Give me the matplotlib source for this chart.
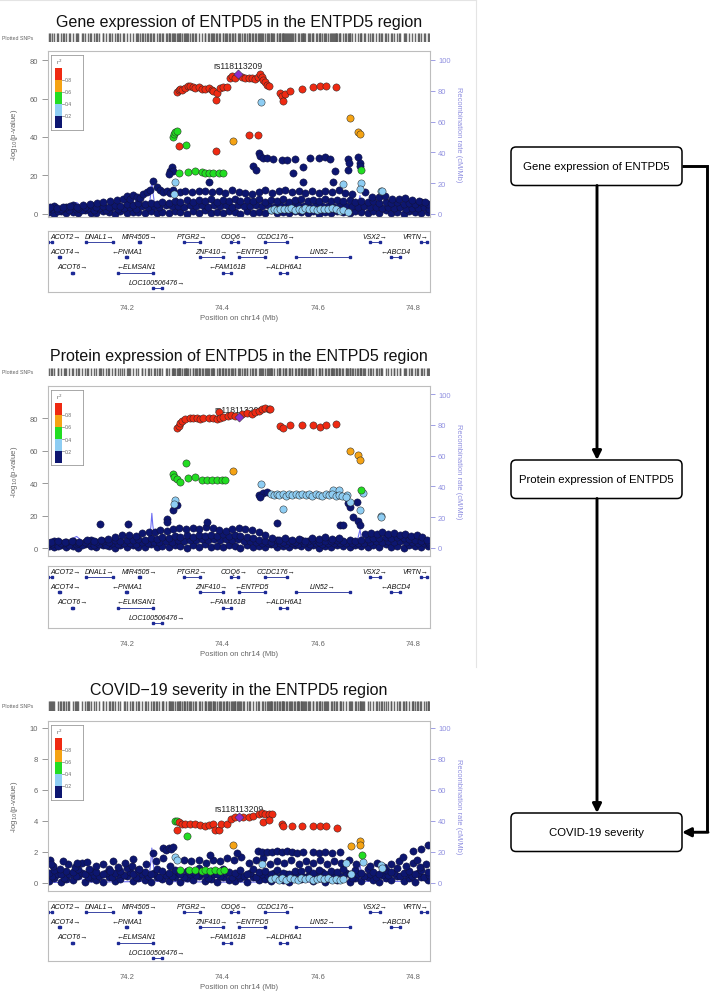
import matplotlib
matplotlib.use('Agg')
import matplotlib.pyplot as plt
from matplotlib.patches import FancyBboxPatch

plt.rcParams['font.family'] = ['Liberation Sans', 'DejaVu Sans']

W, H = 714, 1004
XLIM = (74.034, 74.836)

# ---------------- data ----------------
# background SNP positions (Mb), shared by the three traits
bg_pos = [74.036, 74.047, 74.061, 74.072, 74.086, 74.098, 74.111, 74.125,
          74.135, 74.149, 74.163, 74.174, 74.186, 74.199, 74.213, 74.224,
          74.237, 74.251, 74.262, 74.274, 74.288, 74.301, 74.312, 74.326,
          74.339, 74.350, 74.363, 74.377, 74.388, 74.401, 74.415, 74.426,
          74.438, 74.452, 74.465, 74.476, 74.490, 74.503, 74.514, 74.527,
          74.541, 74.552, 74.565, 74.579, 74.590, 74.602, 74.616, 74.629,
          74.640, 74.654, 74.667, 74.678, 74.691, 74.705, 74.716, 74.729,
          74.743, 74.754, 74.767, 74.781, 74.792, 74.805, 74.818, 74.831]
bg_pos2 = [74.042, 74.054, 74.067, 74.079, 74.092, 74.105, 74.118, 74.130,
           74.142, 74.156, 74.168, 74.180, 74.193, 74.206, 74.218, 74.231,
           74.244, 74.256, 74.268, 74.281, 74.294, 74.306, 74.319, 74.332,
           74.344, 74.357, 74.370, 74.382, 74.395, 74.408, 74.420, 74.432,
           74.445, 74.458, 74.470, 74.483, 74.496, 74.508, 74.521, 74.534,
           74.546, 74.559, 74.572, 74.584, 74.596, 74.609, 74.622, 74.634,
           74.647, 74.660, 74.672, 74.685, 74.698, 74.710, 74.722, 74.736,
           74.748, 74.761, 74.774, 74.786, 74.798, 74.811, 74.824, 74.834]

# recombination rate (cM/Mb)
rec_pos = [74.035, 74.080, 74.088, 74.094, 74.100, 74.108, 74.200, 74.245,
           74.250, 74.252, 74.254, 74.260, 74.400, 74.600, 74.680, 74.686,
           74.689, 74.692, 74.700, 74.810, 74.816, 74.820, 74.826, 74.835]
rec_rate = [0.3, 0.4, 6.5, 7.5, 6.0, 0.5, 0.8, 1.0,
            14.0, 22.5, 15.0, 1.0, 0.5, 0.6, 1.0, 8.0,
            12.0, 6.0, 1.0, 1.0, 4.5, 5.0, 1.0, 0.5]

# genes
gene_names = ['ACOT2', 'DNAL1', 'MIR4505', 'PTGR2', 'COQ6', 'CCDC176', 'VSX2', 'VRTN',
              'ACOT4', 'PNMA1', 'ZNF410', 'ENTPD5', 'LIN52', 'ABCD4',
              'ACOT6', 'ELMSAN1', 'FAM161B', 'ALDH6A1', 'LOC100506476']
gene_start = [74.035, 74.114, 74.226, 74.320, 74.418, 74.490, 74.709, 74.818,
              74.058, 74.198, 74.353, 74.434, 74.554, 74.755,
              74.085, 74.182, 74.401, 74.521, 74.254]
gene_end = [74.042, 74.171, 74.228, 74.353, 74.432, 74.535, 74.731, 74.829,
            74.060, 74.200, 74.401, 74.490, 74.668, 74.773,
            74.087, 74.255, 74.418, 74.535, 74.273]
gene_strand = ['+', '+', '+', '+', '+', '+', '+', '+',
               '+', '-', '+', '-', '+', '-',
               '+', '-', '-', '-', '+']
gene_row = [0, 0, 0, 0, 0, 0, 0, 0, 1, 1, 1, 1, 1, 1, 2, 2, 2, 2, 3]

# --- gene expression of ENTPD5 ---
g_lo = [0.8, 0.2, 1.5, 0.6, 1.1, 0.3, 1.8, 0.7,
        0.4, 1.3, 0.9, 0.2, 1.6, 0.5, 1.2, 0.8,
        0.3, 1.7, 0.6, 1.0, 0.4, 1.5, 0.9, 0.2,
        1.3, 0.7, 1.9, 0.5, 1.1, 0.3, 1.4, 0.8,
        0.2, 1.6, 0.6, 1.0, 0.4, 1.8, 0.7, 1.2,
        0.3, 1.5, 0.9, 0.5, 1.7, 0.2, 1.1, 0.6,
        1.4, 0.8, 0.3, 1.6, 1.0, 0.4, 1.3, 0.7,
        1.9, 0.5, 1.2, 0.2, 1.5, 0.8, 0.4, 1.1]
g_md = [2.4, 1.6, 3.1, 2.0, 2.7, 1.8, 3.3, 2.2,
        2.9, 2.1, 3.5, 2.5, 3.0, 3.8, 2.6, 4.0,
        3.4, 4.2, 3.6, 4.5, 3.9, 4.3, 3.5, 4.6,
        4.0, 4.4, 3.7, 4.8, 4.1, 4.5, 3.8, 4.7,
        4.2, 3.9, 4.6, 4.0, 4.4, 3.6, 4.8, 4.1,
        3.9, 4.5, 4.2, 3.7, 4.6, 4.0, 4.3, 3.8,
        4.5, 3.9, 4.2, 3.6, 4.0, 3.4, 3.8, 3.2,
        3.6, 3.0, 3.4, 2.8, 3.3, 2.9, 3.5, 2.7]
g_hi = [3.2, 4.0, 2.8, 3.6, 4.4, 3.0, 3.8, 4.6,
        3.4, 4.1, 3.7, 4.8, 4.2, 5.1, 4.6, 5.5,
        5.0, 5.8, 5.3, 6.2, 5.7, 6.6, 6.0, 7.0,
        6.3, 7.2, 6.6, 7.5, 6.4, 7.1, 6.8, 7.6,
        6.5, 7.3, 6.9, 7.8, 6.3, 7.2, 6.7, 7.5,
        6.4, 7.0, 7.7, 6.6, 7.3, 6.9, 7.6, 6.5,
        7.1, 6.8, 7.4, 6.3, 6.9, 6.0, 6.6, 5.8,
        6.3, 5.5, 6.0, 5.2, 5.8, 5.4, 6.1, 5.0]
g_mid_x = [74.038, 74.052, 74.066, 74.080, 74.094, 74.108, 74.122, 74.136, 74.150, 74.164,
           74.178, 74.192, 74.199, 74.206, 74.213, 74.220, 74.227, 74.234, 74.241, 74.248,
           74.262, 74.270, 74.276, 74.283, 74.290, 74.297, 74.311, 74.322, 74.336, 74.350,
           74.364, 74.378, 74.392, 74.406, 74.420, 74.434, 74.448, 74.462, 74.476, 74.490,
           74.504, 74.518, 74.532, 74.546, 74.560, 74.574, 74.588, 74.602, 74.616, 74.630,
           74.644, 74.658, 74.672, 74.700, 74.714, 74.728, 74.742, 74.756, 74.770, 74.784,
           74.798, 74.812, 74.826]
g_mid_y = [3.8, 3.0, 3.5, 4.2, 3.6, 4.8, 5.2, 5.5, 6.0, 6.6,
           7.0, 8.0, 9.5, 7.5, 10.0, 9.0, 8.2, 10.5, 11.5, 12.3,
           13.9, 12.6, 11.5, 12.0, 11.0, 12.2, 11.3, 12.0, 11.6, 11.9,
           12.0, 11.2, 11.8, 11.0, 12.4, 11.5, 10.8, 10.2, 11.6, 12.2,
           11.0, 11.9, 12.5, 11.4, 12.0, 11.0, 11.7, 10.9, 11.8, 11.2,
           12.3, 11.0, 10.5, 11.3, 9.0, 8.6, 9.2, 7.8, 7.5, 8.4,
           7.2, 6.8, 6.0]
g_navy_x = [74.476, 74.479, 74.486, 74.493, 74.507, 74.525, 74.535, 74.553, 74.584, 74.602,
            74.616, 74.626, 74.664, 74.666, 74.685, 74.688, 74.688, 74.664, 74.465, 74.470,
            74.549, 74.570, 74.637, 74.290, 74.294, 74.297, 74.287, 74.371, 74.569, 74.633,
            74.255]
g_navy_y = [31.7, 30.3, 28.9, 28.9, 28.6, 28.2, 28.2, 28.6, 28.9, 29.3,
            29.4, 28.6, 28.6, 26.5, 29.4, 26.5, 25.1, 23.0, 25.0, 23.0,
            21.3, 24.2, 22.5, 22.5, 24.5, 22.5, 20.8, 16.5, 16.5, 16.8,
            17.3]
g_ltblue_x = [74.481, 74.301, 74.299, 74.654, 74.692, 74.688, 74.733, 74.736,
              74.502, 74.508, 74.515, 74.522, 74.530, 74.538, 74.545, 74.552, 74.560, 74.567,
              74.574, 74.582, 74.590, 74.598, 74.606, 74.614, 74.622, 74.630, 74.638, 74.646,
              74.654, 74.664]
g_ltblue_y = [58.4, 16.8, 10.4, 15.6, 16.1, 13.0, 12.1, 11.8,
              2.2, 2.6, 2.0, 2.8, 2.3, 2.6, 2.9, 2.2, 2.7, 2.1,
              2.9, 2.4, 2.8, 2.2, 2.6, 2.3, 2.8, 3.2, 2.4, 1.6,
              2.0, 1.2]
g_green_x = [74.297, 74.299, 74.301, 74.304, 74.323, 74.308, 74.327, 74.343, 74.357, 74.364,
             74.371, 74.381, 74.392, 74.402, 74.692]
g_green_y = [40.0, 41.5, 42.5, 43.0, 36.0, 21.5, 21.6, 22.3, 21.8, 21.5,
             21.3, 21.5, 21.3, 21.4, 23.0]
g_orange_x = [74.423, 74.669, 74.685, 74.688]
g_orange_y = [38.1, 49.9, 42.4, 41.6]
g_red_x = [74.304, 74.308, 74.311, 74.315, 74.322, 74.327, 74.332, 74.339, 74.343, 74.350,
           74.357, 74.364, 74.371, 74.378, 74.381, 74.387, 74.388, 74.395, 74.402, 74.409,
           74.416, 74.420, 74.427, 74.441, 74.448, 74.455, 74.462, 74.469, 74.474, 74.479,
           74.483, 74.486, 74.490, 74.493, 74.497, 74.522, 74.525, 74.528, 74.532, 74.543,
           74.567, 74.591, 74.605, 74.617, 74.639, 74.308, 74.387, 74.456, 74.474]
g_red_y = [63.5, 64.3, 64.9, 64.6, 65.5, 66.4, 66.7, 65.8, 65.5, 66.0,
           65.2, 64.9, 65.5, 64.4, 63.9, 59.4, 62.9, 65.4, 65.8, 66.0,
           70.6, 71.5, 70.9, 71.2, 70.6, 70.5, 70.9, 70.2, 71.0, 72.7,
           71.0, 69.5, 68.4, 67.0, 66.3, 62.9, 61.5, 58.9, 62.3, 64.1,
           65.0, 66.0, 66.3, 66.3, 65.8, 35.5, 32.9, 41.0, 41.0]
g_lead = (74.432, 72.9)

# --- protein expression of ENTPD5 ---
p_lo = [1.2, 0.4, 2.0, 0.8, 1.5, 0.3, 2.3, 1.0,
        0.6, 1.8, 1.1, 0.3, 2.1, 0.7, 1.6, 0.9,
        0.4, 2.2, 0.8, 1.3, 0.5, 1.9, 1.2, 0.3,
        1.7, 0.9, 2.4, 0.6, 1.4, 0.4, 1.8, 1.0,
        0.3, 2.0, 0.8, 1.3, 0.5, 2.2, 0.9, 1.5,
        0.4, 1.9, 1.1, 0.6, 2.1, 0.3, 1.4, 0.8,
        1.8, 1.0, 0.4, 2.0, 1.3, 0.5, 1.7, 0.9,
        2.3, 0.6, 1.5, 0.3, 1.9, 1.0, 0.5, 1.4]
p_md = [2.2, 1.5, 2.8, 1.9, 2.5, 1.7, 3.0, 2.1,
        2.6, 2.0, 3.1, 2.4, 2.8, 3.4, 2.5, 3.6,
        3.2, 3.9, 3.5, 4.4, 4.0, 4.8, 4.3, 5.2,
        4.7, 5.4, 4.9, 5.6, 5.0, 5.5, 4.8, 5.3,
        4.6, 4.2, 3.8, 3.4, 3.0, 2.7, 3.1, 2.5,
        2.9, 2.4, 3.2, 2.7, 3.3, 2.6, 3.0, 2.8,
        3.1, 2.9, 3.3, 2.8, 3.4, 3.7, 4.1, 3.8,
        4.2, 3.9, 4.3, 4.0, 3.6, 3.2, 2.8, 2.4]
p_hi = [3.4, 4.2, 3.0, 3.8, 4.6, 3.2, 4.0, 4.8,
        3.6, 4.4, 3.9, 5.0, 4.3, 5.2, 4.7, 5.6,
        5.1, 6.0, 5.4, 6.8, 6.2, 7.4, 6.6, 7.8,
        7.0, 8.2, 7.3, 8.0, 7.6, 8.4, 7.1, 7.9,
        7.4, 6.8, 6.0, 5.2, 4.6, 4.0, 4.8, 3.8,
        4.5, 3.6, 4.9, 4.2, 5.0, 3.9, 4.6, 4.1,
        4.8, 4.3, 5.0, 4.4, 5.2, 5.8, 6.4, 5.9,
        6.6, 6.0, 6.8, 6.2, 5.6, 5.0, 4.2, 3.6]
p_mid_x = [74.040, 74.055, 74.070, 74.085, 74.100, 74.115, 74.130, 74.145, 74.160, 74.175,
           74.190, 74.205, 74.218, 74.232, 74.245, 74.258, 74.270, 74.283, 74.296, 74.310,
           74.324, 74.338, 74.352, 74.366, 74.380, 74.394, 74.408, 74.420, 74.434, 74.448,
           74.462, 74.476, 74.490, 74.504, 74.518, 74.532, 74.546, 74.560, 74.574, 74.588,
           74.602, 74.616, 74.630, 74.644, 74.700, 74.712, 74.724, 74.736, 74.748, 74.760,
           74.772, 74.784, 74.796, 74.808, 74.820, 74.830]
p_mid_y = [3.5, 4.2, 3.8, 4.5, 3.9, 4.8, 4.1, 5.2, 5.8, 6.5,
           7.8, 8.2, 7.5, 9.2, 10.0, 9.6, 11.2, 10.4, 11.8, 12.4,
           11.6, 12.6, 11.8, 12.9, 12.2, 11.2, 10.6, 11.6, 12.4, 11.8,
           10.8, 9.6, 8.2, 6.4, 5.2, 6.0, 5.0, 5.8, 4.6, 6.2,
           5.6, 6.6, 5.4, 6.0, 8.6, 9.2, 8.4, 9.6, 8.8, 9.4,
           8.2, 8.8, 7.6, 8.0, 6.8, 4.8]
p_navy_x = [74.297, 74.304, 74.283, 74.283, 74.476, 74.486, 74.493, 74.479, 74.664, 74.668,
            74.683, 74.674, 74.685, 74.689, 74.647, 74.654, 74.143, 74.202, 74.367, 74.514]
p_navy_y = [23.1, 26.2, 17.6, 16.0, 32.7, 33.9, 34.4, 31.7, 27.8, 25.1,
            28.2, 19.0, 16.6, 13.9, 13.9, 14.3, 14.5, 14.5, 16.0, 15.3]
p_ltblue_x = [74.301, 74.299, 74.481, 74.528, 74.689, 74.733, 74.734, 74.633, 74.644, 74.662,
              74.668, 74.695,
              74.502, 74.508, 74.514, 74.520, 74.527, 74.533, 74.540, 74.547, 74.554, 74.561,
              74.568, 74.575, 74.582, 74.589, 74.596, 74.603, 74.610, 74.617, 74.624, 74.631,
              74.638, 74.645, 74.652, 74.659]
p_ltblue_y = [29.3, 27.2, 39.5, 24.1, 23.5, 20.0, 19.0, 36.0, 36.0, 32.8,
              28.2, 33.8,
              33.0, 32.4, 33.4, 32.6, 33.2, 32.2, 33.0, 32.6, 33.4, 32.4,
              33.1, 32.5, 33.3, 32.2, 33.0, 32.6, 32.3, 33.2, 32.5, 33.0,
              32.2, 32.8, 31.9, 31.5]
p_green_x = [74.323, 74.297, 74.299, 74.304, 74.311, 74.327, 74.343, 74.357, 74.367, 74.378,
             74.388, 74.399, 74.406, 74.692]
p_green_y = [52.4, 45.6, 44.0, 42.6, 40.5, 43.0, 43.6, 42.1, 42.1, 42.1,
             42.1, 42.1, 41.9, 35.8]
p_orange_x = [74.423, 74.669, 74.685, 74.688]
p_orange_y = [47.7, 60.0, 57.5, 54.4]
p_red_x = [74.304, 74.308, 74.311, 74.315, 74.322, 74.332, 74.339, 74.346, 74.353, 74.360,
           74.371, 74.381, 74.388, 74.392, 74.395, 74.402, 74.411, 74.418, 74.427, 74.441,
           74.451, 74.462, 74.469, 74.476, 74.483, 74.490, 74.497, 74.500, 74.522, 74.528,
           74.543, 74.567, 74.591, 74.605, 74.617, 74.639]
p_red_y = [74.1, 75.3, 76.9, 78.4, 79.4, 79.8, 80.0, 80.2, 79.5, 79.8,
           80.0, 80.2, 79.6, 83.9, 79.8, 80.6, 81.0, 81.8, 81.0, 82.5,
           83.1, 82.5, 83.5, 84.5, 85.5, 85.9, 85.5, 85.5, 75.3, 73.9,
           75.7, 75.7, 75.7, 74.7, 75.7, 76.1]
p_lead = (74.434, 80.4)

# --- COVID-19 severity ---
c_lo = [0.12, 0.35, 0.05, 0.28, 0.18, 0.42, 0.08, 0.30,
        0.22, 0.06, 0.38, 0.15, 0.27, 0.45, 0.10, 0.33,
        0.20, 0.05, 0.40, 0.25, 0.12, 0.36, 0.08, 0.30,
        0.18, 0.44, 0.10, 0.26, 0.05, 0.38, 0.22, 0.14,
        0.32, 0.07, 0.41, 0.20, 0.28, 0.10, 0.35, 0.16,
        0.06, 0.30, 0.24, 0.43, 0.12, 0.34, 0.08, 0.27,
        0.19, 0.40, 0.05, 0.31, 0.15, 0.37, 0.22, 0.09,
        0.33, 0.18, 0.44, 0.11, 0.29, 0.06, 0.36, 0.21]
c_md = [0.42, 0.55, 0.35, 0.60, 0.48, 0.66, 0.38, 0.52,
        0.45, 0.62, 0.36, 0.58, 0.50, 0.68, 0.40, 0.56,
        0.47, 0.64, 0.37, 0.54, 0.44, 0.70, 0.39, 0.57,
        0.49, 0.63, 0.34, 0.59, 0.46, 0.67, 0.41, 0.53,
        0.48, 0.65, 0.38, 0.56, 0.43, 0.61, 0.36, 0.58,
        0.50, 0.66, 0.40, 0.55, 0.45, 0.69, 0.37, 0.52,
        0.47, 0.63, 0.35, 0.57, 0.44, 0.60, 0.39, 0.54,
        0.49, 0.67, 0.42, 0.58, 0.46, 0.64, 0.38, 0.51]
c_hi = [0.62, 0.85, 0.55, 0.78, 0.68, 0.92, 0.58, 0.80,
        0.72, 0.56, 0.88, 0.65, 0.77, 0.95, 0.60, 0.83,
        0.70, 0.55, 0.90, 0.75, 0.62, 0.86, 0.58, 0.80,
        0.68, 0.94, 0.60, 0.76, 0.55, 0.88, 0.72, 0.64,
        0.82, 0.57, 0.91, 0.70, 0.78, 0.60, 0.85, 0.66,
        0.56, 0.80, 0.74, 0.93, 0.62, 0.84, 0.58, 0.77,
        0.69, 0.90, 0.55, 0.81, 0.65, 0.87, 0.72, 0.59,
        0.83, 0.68, 0.94, 0.61, 0.79, 0.56, 0.86, 0.71]
c_mid_x = [74.045, 74.060, 74.075, 74.090, 74.105, 74.120, 74.135, 74.150, 74.165, 74.180,
           74.195, 74.210, 74.225, 74.240, 74.260, 74.275, 74.290, 74.320, 74.335, 74.350,
           74.365, 74.380, 74.395, 74.410, 74.425, 74.440, 74.455, 74.470, 74.485, 74.500,
           74.515, 74.530, 74.545, 74.560, 74.575, 74.590, 74.605, 74.620, 74.635, 74.650,
           74.665, 74.680, 74.710, 74.725, 74.740, 74.755, 74.770, 74.785, 74.800, 74.815,
           74.828]
c_mid_y = [1.1, 0.9, 1.2, 1.0, 1.3, 0.9, 1.1, 1.2, 0.8, 1.0,
           1.3, 1.1, 0.9, 1.2, 1.4, 1.6, 1.1, 1.5, 1.4, 1.5,
           1.3, 1.5, 1.4, 1.6, 1.5, 1.7, 1.3, 1.5, 1.6, 1.2,
           1.4, 1.3, 1.5, 1.2, 1.4, 1.3, 1.5, 1.2, 1.4, 1.3,
           1.5, 1.2, 1.1, 1.3, 1.0, 1.2, 1.4, 1.1, 1.3, 1.0,
           1.2]
c_navy_x = [74.276, 74.281, 74.287, 74.292, 74.297, 74.255, 74.474, 74.483, 74.493, 74.504,
            74.514, 74.525, 74.535, 74.546, 74.556, 74.570, 74.591, 74.602, 74.616, 74.630,
            74.647, 74.801, 74.818, 74.832, 74.780, 74.808, 74.374, 74.430, 74.213, 74.171,
            74.038, 74.041, 74.066, 74.115, 74.094]
c_navy_y = [2.23, 2.15, 2.28, 2.20, 2.30, 1.90, 2.06, 1.98, 2.02, 2.00,
            2.06, 2.00, 2.04, 2.00, 1.96, 1.98, 2.02, 1.96, 2.02, 1.94,
            1.98, 2.04, 2.20, 2.47, 1.70, 1.46, 1.78, 1.90, 1.57, 1.40,
            1.46, 1.25, 1.40, 1.35, 1.30]
c_ltblue_x = [74.301, 74.304, 74.483, 74.660, 74.671, 74.696, 74.733, 74.736,
              74.502, 74.510, 74.518, 74.526, 74.534, 74.542, 74.550, 74.558, 74.566, 74.574,
              74.582, 74.590, 74.598, 74.606, 74.614, 74.622, 74.630, 74.638, 74.646, 74.654]
c_ltblue_y = [1.68, 1.46, 1.25, 1.30, 0.60, 1.35, 1.18, 0.97,
              0.25, 0.32, 0.20, 0.30, 0.22, 0.34, 0.26, 0.20, 0.30, 0.24,
              0.33, 0.22, 0.28, 0.35, 0.24, 0.30, 0.22, 0.28, 0.20, 0.26]
c_green_x = [74.301, 74.304, 74.325, 74.694, 74.311, 74.329, 74.343, 74.357, 74.364, 74.374,
             74.385, 74.395, 74.403]
c_green_y = [4.00, 4.00, 3.03, 1.78, 0.82, 0.85, 0.86, 0.80, 0.85, 0.78,
             0.82, 0.80, 0.84]
c_orange_x = [74.423, 74.671, 74.688, 74.689]
c_orange_y = [2.47, 2.37, 2.69, 2.43]
c_red_x = [74.304, 74.308, 74.315, 74.322, 74.332, 74.343, 74.353, 74.364, 74.371, 74.381,
           74.385, 74.392, 74.397, 74.409, 74.418, 74.427, 74.444, 74.455, 74.465, 74.476,
           74.483, 74.490, 74.497, 74.504, 74.485, 74.497, 74.525, 74.528, 74.546, 74.567,
           74.591, 74.605, 74.617, 74.640]
c_red_y = [3.40, 3.91, 3.78, 3.78, 3.83, 3.78, 3.74, 3.70, 3.74, 3.83,
           3.40, 3.40, 3.78, 3.78, 4.15, 4.26, 4.26, 4.26, 4.32, 4.47,
           4.54, 4.47, 4.47, 4.47, 3.91, 4.04, 3.83, 3.68, 3.68, 3.68,
           3.68, 3.68, 3.68, 3.55]
c_lead = (74.435, 4.24)

lead_snp = 'rs118113209'
r2_labels = ['0.2', '0.4', '0.6', '0.8']

# ---------------- styling ----------------
NAVY, LTBLUE, GREEN, ORANGE, RED = '#0d1670', '#8ecdf3', '#22dd22', '#f5a314', '#ef2a12'
LEAD = '#8a2fcc'
REC = '#6f6ff2'
RTXT = '#8f8fe0'
GRAY = '#666666'

panels = [
    dict(title='Gene expression of ENTPD5 in the ENTPD5 region',
         rows=(26.7, 34, 43, 52, 218, 232, 293), ylim=(-1.6, 84.7), yticks=[0, 20, 40, 60, 80],
         rlim=(-1.95, 105.8), lo=g_lo, md=g_md, hi=g_hi, mid=(g_mid_x, g_mid_y),
         navy=(g_navy_x, g_navy_y), ltblue=(g_ltblue_x, g_ltblue_y), green=(g_green_x, g_green_y),
         orange=(g_orange_x, g_orange_y), red=(g_red_x, g_red_y), lead=g_lead),
    dict(title='Protein expression of ENTPD5 in the ENTPD5 region',
         rows=(360.7, 369, 377, 387, 557, 567, 629), ylim=(-4.9, 99.7), yticks=[0, 20, 40, 60, 80],
         rlim=(-5.2, 105.2), lo=p_lo, md=p_md, hi=p_hi, mid=(p_mid_x, p_mid_y),
         navy=(p_navy_x, p_navy_y), ltblue=(p_ltblue_x, p_ltblue_y), green=(p_green_x, p_green_y),
         orange=(p_orange_x, p_orange_y), red=(p_red_x, p_red_y), lead=p_lead),
    dict(title='COVID\u221219 severity in the ENTPD5 region',
         rows=(695, 702, 712, 722, 892, 902, 962), ylim=(-0.52, 10.45), yticks=[0, 2, 4, 6, 8, 10],
         rlim=(-5.2, 104.5), lo=c_lo, md=c_md, hi=c_hi, mid=(c_mid_x, c_mid_y),
         navy=(c_navy_x, c_navy_y), ltblue=(c_ltblue_x, c_ltblue_y), green=(c_green_x, c_green_y),
         orange=(c_orange_x, c_orange_y), red=(c_red_x, c_red_y), lead=c_lead),
]

fig = plt.figure(figsize=(W / 100, H / 100), dpi=100)


def px_axes(x0, y0, x1, y1, **kw):
    return fig.add_axes([x0 / W, 1 - y1 / H, (x1 - x0) / W, (y1 - y0) / H], **kw)


def dots(ax, xs, ys, color, z, edge='#262626'):
    ax.scatter(xs, ys, s=27, c=color, edgecolors=edge, linewidths=0.35, zorder=z)


AX0, AX1 = 48, 430
gene_texts = []

for p in panels:
    t_base, r0, r1, m0, m1, g0, g1 = p['rows']

    fig.text((AX0 + AX1) / 2 / W, 1 - t_base / H, p['title'], ha='center', va='baseline',
             fontsize=11.5, color='#111111')

    # plotted SNPs rug
    all_x = sorted(set(bg_pos + bg_pos2 + p['mid'][0] + p['navy'][0] + p['ltblue'][0]
                       + p['green'][0] + p['orange'][0] + p['red'][0] + [p['lead'][0]]))
    rax = px_axes(AX0, r0, AX1, r1)
    rax.vlines(all_x, 0, 1, color='#585858', lw=1.05, alpha=0.9)
    rax.set_xlim(*XLIM)
    rax.set_ylim(0, 1)
    rax.axis('off')
    fig.text(2 / W, 1 - (r0 + r1) / 2 / H, 'Plotted SNPs', ha='left', va='center',
             fontsize=3.8, color=GRAY)

    # main association plot
    ax = px_axes(AX0, m0, AX1, m1)
    ax2 = ax.twinx()
    ax2.plot(rec_pos, rec_rate, color=REC, lw=0.8, zorder=1)
    ax2.set_ylim(*p['rlim'])
    ax2.set_yticks([0, 20, 40, 60, 80, 100])
    ax2.tick_params(axis='y', colors=RTXT, labelsize=5.4, length=3.6, width=0.6, pad=2.2)
    for s in ax2.spines.values():
        s.set_visible(False)
    ax.set_zorder(ax2.get_zorder() + 1)
    ax.patch.set_visible(False)

    navy_edge = '#10123a'
    dots(ax, bg_pos, p['lo'], NAVY, 2, edge=navy_edge)
    dots(ax, bg_pos2, p['md'], NAVY, 2, edge=navy_edge)
    dots(ax, bg_pos, p['hi'], NAVY, 2, edge=navy_edge)
    dots(ax, p['mid'][0], p['mid'][1], NAVY, 2, edge=navy_edge)
    dots(ax, p['navy'][0], p['navy'][1], NAVY, 2, edge=navy_edge)
    dots(ax, p['ltblue'][0], p['ltblue'][1], LTBLUE, 3)
    dots(ax, p['green'][0], p['green'][1], GREEN, 5)
    dots(ax, p['orange'][0], p['orange'][1], ORANGE, 5)
    dots(ax, p['red'][0], p['red'][1], RED, 6)
    ax.scatter([p['lead'][0]], [p['lead'][1]], s=22, marker='D', c=LEAD,
               edgecolors='#333333', linewidths=0.35, zorder=7)
    ax.annotate(lead_snp, p['lead'], xytext=(0, 6), textcoords='offset points',
                ha='center', va='center', fontsize=6.2, color='#222222', zorder=4)

    ax.set_xlim(*XLIM)
    ax.set_ylim(*p['ylim'])
    ax.set_xticks([])
    ax.set_yticks(p['yticks'])
    ax.tick_params(axis='y', colors='#888888', labelcolor=GRAY, labelsize=5.5,
                   length=4.5, width=0.6, pad=2.5)
    for s in ax.spines.values():
        s.set_color('#bdbdbd')
        s.set_linewidth(0.8)

    fig.text(15 / W, 1 - (m0 + m1) / 2 / H, '-log$_{10}$(p-value)', rotation=90,
             ha='center', va='center', fontsize=5.6, color=GRAY)
    fig.text(458 / W, 1 - (m0 + m1) / 2 / H, 'Recombination rate (cM/Mb)', rotation=270,
             ha='center', va='center', fontsize=5.4, color=RTXT)

    # r2 legend
    lax = px_axes(51, m0 + 4, 83, m0 + 79)
    lax.set_xlim(0, 32)
    lax.set_ylim(75, 0)
    lax.bar([7.5] * 5, [12] * 5, width=7.5, bottom=[61, 49, 37, 25, 13],
            color=[NAVY, LTBLUE, GREEN, ORANGE, RED], linewidth=0)
    for lab, yy in zip(r2_labels, [61, 49, 37, 25]):
        lax.plot([11.3, 13], [yy, yy], color='#777777', lw=0.5)
        lax.text(14, yy, lab, fontsize=3.6, color=GRAY, va='center', ha='left')
    lax.text(8, 6.5, 'r$^2$', fontsize=4.2, color=GRAY, ha='center', va='center')
    lax.set_xticks([])
    lax.set_yticks([])
    for s in lax.spines.values():
        s.set_color('#9a9a9a')
        s.set_linewidth(0.6)

    # genes
    gax = px_axes(AX0, g0, AX1, g1)
    gh = g1 - g0
    gax.set_xlim(*XLIM)
    gax.set_ylim(gh, 0)
    for name, st, en, sd, row in zip(gene_names, gene_start, gene_end, gene_strand, gene_row):
        ly = 11 + 15.4 * row
        gax.plot([st, en], [ly, ly], color='#1d2a96', lw=0.6)
        gax.plot([st, en], [ly, ly], ls='none', marker='s', ms=1.6, color='#1d2a96')
        label = name + '\u2192' if sd == '+' else '\u2190' + name
        txt = gax.text((st + en) / 2, 5.2 + 15.4 * row, label, ha='center', va='center',
                       fontsize=5, style='italic', color='#111111')
        gene_texts.append((gax, txt))
    gax.set_yticks([])
    gax.set_xticks([74.2, 74.4, 74.6, 74.8])
    gax.set_xticklabels(['74.2', '74.4', '74.6', '74.8'])
    gax.tick_params(axis='x', length=0, pad=8.3, labelsize=5.5, labelcolor=GRAY)
    gax.set_xlabel('Position on chr14 (Mb)', fontsize=5.6, color=GRAY, labelpad=2.6)
    for s in gax.spines.values():
        s.set_color('#bdbdbd')
        s.set_linewidth(0.8)

# keep gene labels inside their panel
renderer = fig.canvas.get_renderer()
for gax, txt in gene_texts:
    bb = txt.get_window_extent(renderer)
    ab = gax.get_window_extent(renderer)
    per_px = (XLIM[1] - XLIM[0]) / ab.width
    x, y = txt.get_position()
    if bb.x0 < ab.x0 + 2:
        txt.set_position((x + (ab.x0 + 2 - bb.x0) * per_px, y))
    elif bb.x1 > ab.x1 - 2:
        txt.set_position((x - (bb.x1 - ab.x1 + 2) * per_px, y))

# flow diagram on the right
ov = fig.add_axes([0, 0, 1, 1])
ov.set_xlim(0, W)
ov.set_ylim(H, 0)
ov.axis('off')
ov.plot([476, 476], [0, 668], color='#e4e4e4', lw=0.8)
ov.plot([0, 476], [0.5, 0.5], color='#e4e4e4', lw=0.8)

flow_labels = ['Gene expression of ENTPD5', 'Protein expression of ENTPD5', 'COVID-19 severity']
flow_top = [148, 461, 814]
bx0, bx1, bh = 511, 682, 38.5
cx = 597
for lab, ty in zip(flow_labels, flow_top):
    ov.add_patch(FancyBboxPatch((bx0, ty), bx1 - bx0, bh, boxstyle='round,pad=0,rounding_size=5',
                                fc='white', ec='black', lw=1.1, zorder=3))
    ov.text((bx0 + bx1) / 2, ty + bh / 2, lab, ha='center', va='center', fontsize=8.2,
            color='black', zorder=4)

arw = dict(arrowstyle='-|>', lw=2.1, color='black', mutation_scale=13, shrinkA=0, shrinkB=0)
ov.annotate('', xy=(cx, flow_top[1]), xytext=(cx, flow_top[0] + bh), arrowprops=arw)
ov.annotate('', xy=(cx, flow_top[2]), xytext=(cx, flow_top[1] + bh), arrowprops=arw)
side_x = 707
y_a = flow_top[0] + bh / 2
y_b = flow_top[2] + bh / 2
ov.plot([bx1, side_x, side_x], [y_a, y_a, y_b], color='black', lw=2.1,
        solid_joinstyle='miter', solid_capstyle='butt')
ov.annotate('', xy=(bx1, y_b), xytext=(side_x + 1, y_b), arrowprops=arw)

fig.savefig('out.png', dpi=100)
